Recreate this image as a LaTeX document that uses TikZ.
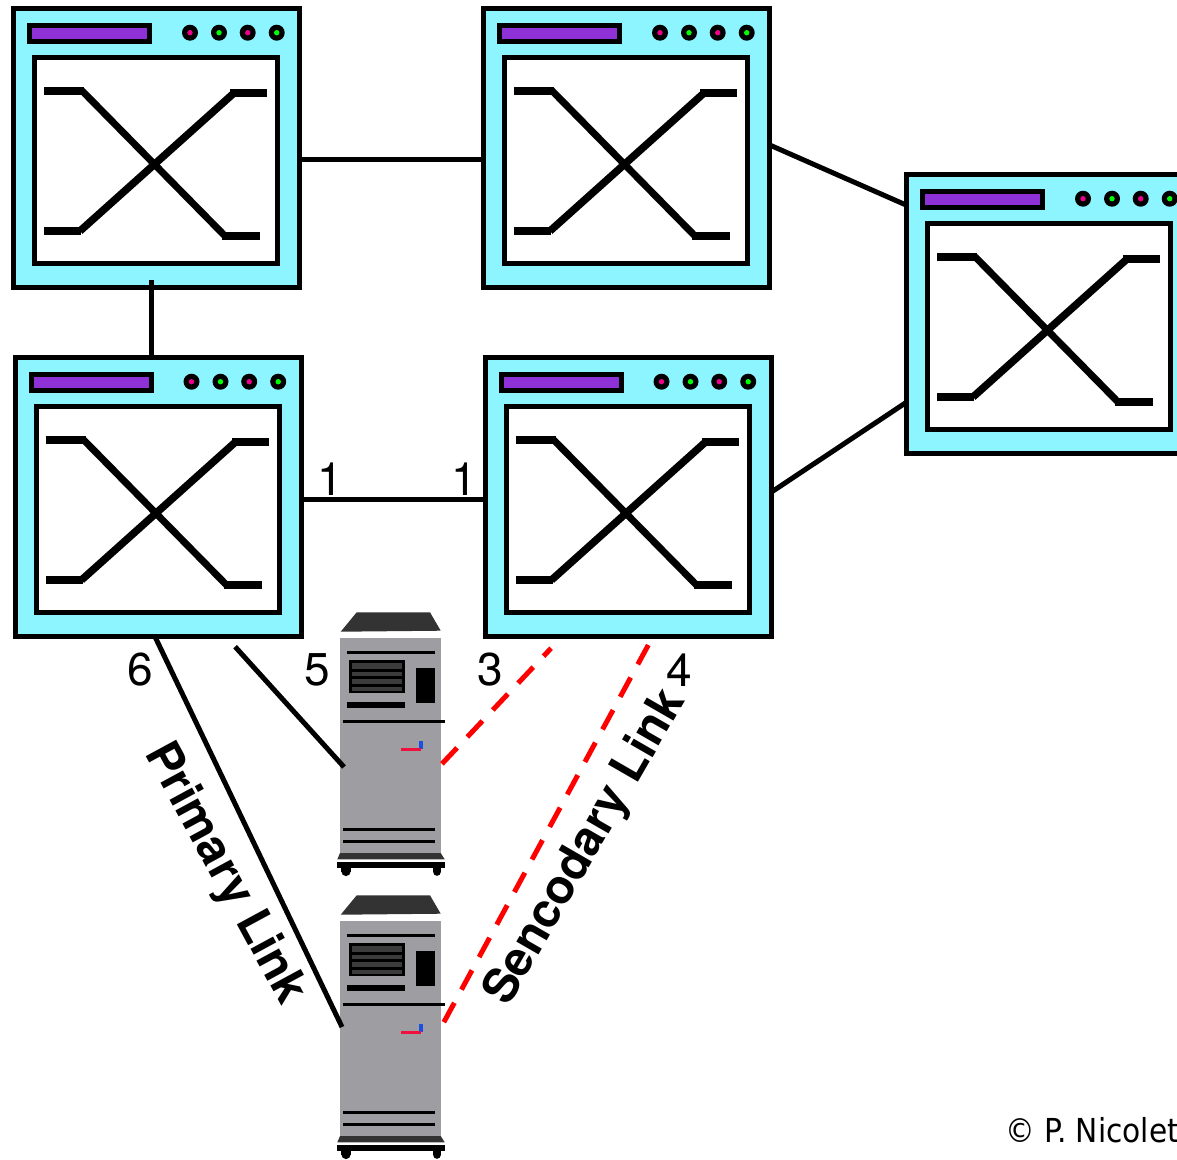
\documentclass[tikz,border=0pt]{standalone}
\usepackage{fontspec}
\setmainfont{TeX Gyre Heros}
\newfontfamily\creditfont{DejaVu Sans Condensed}
\definecolor{swcyan}{HTML}{8CF5FF}
\definecolor{swpurple}{HTML}{8E32D8}
\definecolor{srvgray}{HTML}{9E9DA2}
\definecolor{srvdark}{HTML}{333333}
\definecolor{srvslat}{HTML}{3C3C3C}
\definecolor{srvblue}{HTML}{1A4FE0}
\definecolor{srvred}{HTML}{F0103C}
\tikzset{
  swbox/.style={draw=black,fill=swcyan,line width=5pt,minimum width=286.2pt,minimum height=279pt,inner sep=0pt,outer sep=0pt},
  srvbox/.style={fill=srvgray,draw=none,minimum width=100.7pt,minimum height=215.3pt,inner sep=0pt,outer sep=0pt},
  link/.style={draw=black,line width=5pt},
  backup/.style={draw=red,line width=5pt,dash pattern=on 22pt off 15pt},
  numlabel/.style={font=\fontsize{46}{50}\selectfont,inner sep=0pt},
  linklabel/.style={font=\fontsize{47.5}{50}\selectfont\bfseries,inner sep=0pt},
}
\newcommand{\switchparts}[2]{%
  \begin{scope}[shift={(#1,#2)}]
    \draw[line width=5pt,fill=swpurple] (29.5,25.2) rectangle (149.5,41);
    \draw[line width=5pt,fill=white] (34.5,57.5) rectangle (277.5,263);
    \foreach \cx/\cc in {190/magenta,219/green,247.7/magenta,276.7/green}{
      \fill[black] (\cx,32.7) circle (8pt);
      \fill[\cc] (\cx,32.7) circle (2.7pt);
    }
    \draw[line width=8pt] (44,90.7) -- (84,90.7);
    \draw[line width=7pt] (82,90.7) -- (225,236);
    \draw[line width=8pt] (222,236) -- (260,236);
    \draw[line width=8pt] (44,231) -- (81,231);
    \draw[line width=7.5pt] (80,231) -- (234,93);
    \draw[line width=8pt] (230,93) -- (267,93);
  \end{scope}}
\newcommand{\serverparts}[1]{%
  \begin{scope}[shift={(0,#1)}]
    \fill[srvdark] (356.7,612.3) -- (430,612.3) -- (440.7,630.7) -- (340.7,631.7) -- cycle;
    \draw[line width=3pt] (347,652.3) -- (434.7,652.3);
    \fill[black] (349.3,660) rectangle (404.7,693.3);
    \fill[srvslat] (352,662.7) rectangle (402.3,668.7);
    \fill[srvslat] (352,672) rectangle (402.3,676.3);
    \fill[srvslat] (352,678.7) rectangle (402.3,684.3);
    \fill[srvslat] (352,687) rectangle (402.3,691.3);
    \fill[black] (415.7,668.3) rectangle (434.7,703.3);
    \fill[black] (347,702.3) rectangle (404.7,707.7);
    \draw[line width=2.5pt] (342.7,721.7) -- (445.3,721.7);
    \fill[srvblue] (418.5,741.3) rectangle (423,749);
    \draw[srvred,line width=3pt] (401,749) -- (421,749);
    \draw[line width=3pt] (343.3,829.7) -- (434.7,829.7);
    \draw[line width=3pt] (343.3,841) -- (434.7,841);
    \fill[srvdark] (340,853) -- (440.7,853) -- (444.7,859.3) -- (337.3,859.3) -- cycle;
    \fill[black] (337.3,861.7) rectangle (444.7,867.7);
    \fill[black] (341.4,867) rectangle (350.6,871.5);
    \fill[black] (346,871.5) circle (4.6pt);
    \fill[black] (433.2,867) rectangle (440.8,872);
    \fill[black] (437,872) circle (3.8pt);
  \end{scope}}
\begin{document}
\begin{tikzpicture}[x=1pt,y=-1pt]
\useasboundingbox (0,0) rectangle (1177,1159);
\clip (0,0) rectangle (1177,1159);
\fill[white] (0,0) rectangle (1177,1159);
\node[swbox] (s1) at (156.6,148.2) {};
\switchparts{0}{0}
\node[swbox] (s2) at (626.6,148.2) {};
\switchparts{470}{0}
\node[swbox] (s3) at (158.1,497.2) {};
\switchparts{1.5}{349}
\node[swbox] (s4) at (628.1,497.2) {};
\switchparts{471.5}{349}
\node[swbox] (s5) at (1049.6,314.2) {};
\switchparts{893}{166}
\node[srvbox] (srv1) at (390.35,745.35) {};
\serverparts{0}
\node[srvbox] (srv2) at (390.35,1028.35) {};
\serverparts{283}
\draw[link] ([yshift=-10.8pt]s1.east) -- ([yshift=-10.8pt]s2.west);
\draw[link] ([xshift=-5.6pt,yshift=8pt]s1.south) -- ([xshift=-7.1pt]s3.north);
\draw[link] ([yshift=-1.8pt]s3.east) -- ([yshift=-1.8pt]s4.west);
\draw[link] ([yshift=3.2pt]s2.east) -- ([yshift=109pt]s5.west);
\draw[link] ([yshift=5pt]s4.east) -- ([yshift=-88pt]s5.west);
\draw[link] ([xshift=77pt,yshift=-10pt]s3.south) -- ([xshift=4pt,yshift=-21.65pt]srv1.west);
\draw[link] ([xshift=-3.1pt]s3.south) -- ([xshift=2pt,yshift=1.35pt]srv2.west);
\draw[backup,dash phase=11pt] ([xshift=-77pt,yshift=-11.5pt]s4.south) -- ([xshift=.3pt,yshift=-19.5pt]srv1.east);
\draw[backup] ([xshift=20.2pt,yshift=-8.3pt]s4.south) -- ([xshift=1.6pt,yshift=3.35pt]srv2.east);
\node[numlabel] (n1) at (330,479) {1};
\node[numlabel] (n2) at (464,479) {1};
\node[numlabel] (n3) at (140,670) {6};
\node[numlabel] (n4) at (317,670) {5};
\node[numlabel] (n5) at (490,670) {3};
\node[numlabel] (n6) at (679,670) {4};
\node[linklabel,rotate=-61.5] (l1) at (224,874) {Primary Link};
\node[linklabel,rotate=60] (l2) at (586,848) {Sencodary Link};
\node[anchor=base west,inner sep=0pt,font=\creditfont\fontsize{33}{36}\selectfont] (c) at (1005,1142) {© P. Nicolet};
\end{tikzpicture}
\end{document}
